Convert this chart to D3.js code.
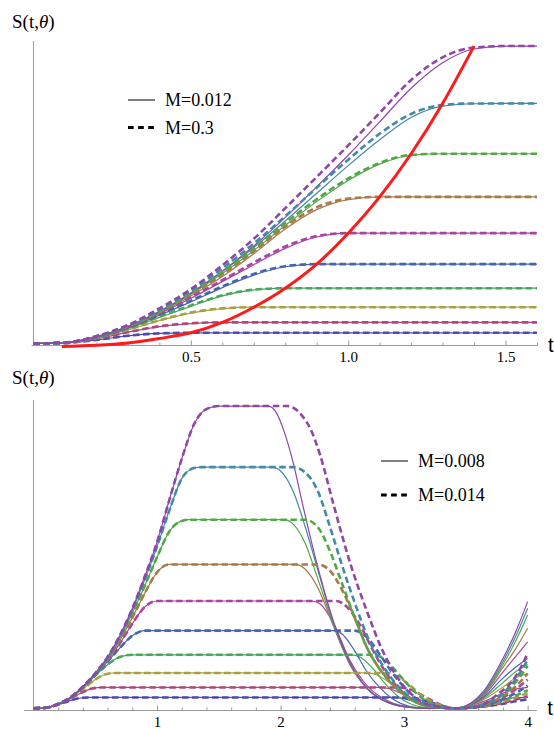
<!DOCTYPE html>
<html>
<head>
<meta charset="utf-8">
<script src="https://cdn.jsdelivr.net/npm/d3@7"></script>
<style>
  html, body { margin: 0; padding: 0; background: #fff; }
  svg { display: block; }
  .serif { font-family: "Liberation Serif", "Times New Roman", serif; }
  .sans { font-family: "Liberation Sans", Arial, sans-serif; }
</style>
</head>
<body>
<svg id="chart" width="554" height="729"></svg>
<script>
// Colours of the ten levels, lowest plateau first
const levelColors = ["#4b4bb0", "#b0457f", "#a8a040", "#45a85a", "#4565b0",
                     "#a845a3", "#a8794a", "#52a845", "#4389a8", "#9045a8"];

// ---------- upper panel: S(t,θ) for M=0.012 (solid) and M=0.3 (dashed) ----------
const topTimes = [0, 0.1, 0.2, 0.3, 0.4, 0.5, 0.6, 0.7, 0.8, 0.9, 1.0, 1.1, 1.2, 1.3, 1.4, 1.5, 1.6];
const topSolid = [
  [0, 0.002, 0.012, 0.026, 0.034, 0.036, 0.036, 0.036, 0.036, 0.036, 0.036, 0.036, 0.036, 0.036, 0.036, 0.036, 0.036],
  [0, 0.002, 0.016, 0.038, 0.057, 0.067, 0.071, 0.071, 0.071, 0.071, 0.071, 0.071, 0.071, 0.071, 0.071, 0.071, 0.071],
  [0, 0.002, 0.019, 0.046, 0.077, 0.102, 0.117, 0.122, 0.122, 0.122, 0.122, 0.122, 0.122, 0.122, 0.122, 0.122, 0.122],
  [0, 0.003, 0.020, 0.050, 0.088, 0.125, 0.160, 0.180, 0.186, 0.186, 0.186, 0.186, 0.186, 0.186, 0.186, 0.186, 0.186],
  [0, 0.003, 0.021, 0.052, 0.095, 0.140, 0.188, 0.230, 0.258, 0.267, 0.267, 0.267, 0.267, 0.267, 0.267, 0.267, 0.267],
  [0, 0.003, 0.022, 0.054, 0.100, 0.152, 0.208, 0.265, 0.320, 0.358, 0.371, 0.371, 0.371, 0.371, 0.371, 0.371, 0.371],
  [0, 0.003, 0.022, 0.055, 0.102, 0.160, 0.225, 0.302, 0.385, 0.450, 0.484, 0.493, 0.493, 0.493, 0.493, 0.493, 0.493],
  [0, 0.003, 0.023, 0.057, 0.106, 0.166, 0.235, 0.313, 0.397, 0.477, 0.548, 0.603, 0.633, 0.638, 0.638, 0.638, 0.638],
  [0, 0.003, 0.023, 0.058, 0.108, 0.170, 0.242, 0.323, 0.412, 0.505, 0.598, 0.685, 0.760, 0.798, 0.806, 0.807, 0.807],
  [0, 0.002, 0.022, 0.056, 0.107, 0.168, 0.243, 0.328, 0.424, 0.527, 0.633, 0.745, 0.858, 0.944, 0.990, 1.000, 1.000]
];
const topDashed = [
  [0, 0.002, 0.012, 0.026, 0.034, 0.036, 0.036, 0.036, 0.036, 0.036, 0.036, 0.036, 0.036, 0.036, 0.036, 0.036, 0.036],
  [0, 0.002, 0.016, 0.038, 0.058, 0.068, 0.071, 0.071, 0.071, 0.071, 0.071, 0.071, 0.071, 0.071, 0.071, 0.071, 0.071],
  [0, 0.002, 0.019, 0.047, 0.078, 0.104, 0.118, 0.122, 0.122, 0.122, 0.122, 0.122, 0.122, 0.122, 0.122, 0.122, 0.122],
  [0, 0.003, 0.020, 0.051, 0.090, 0.128, 0.162, 0.181, 0.186, 0.186, 0.186, 0.186, 0.186, 0.186, 0.186, 0.186, 0.186],
  [0, 0.003, 0.021, 0.053, 0.097, 0.144, 0.192, 0.234, 0.260, 0.267, 0.267, 0.267, 0.267, 0.267, 0.267, 0.267, 0.267],
  [0, 0.003, 0.022, 0.055, 0.102, 0.156, 0.213, 0.272, 0.326, 0.361, 0.371, 0.371, 0.371, 0.371, 0.371, 0.371, 0.371],
  [0, 0.003, 0.023, 0.057, 0.105, 0.165, 0.232, 0.310, 0.393, 0.458, 0.487, 0.493, 0.493, 0.493, 0.493, 0.493, 0.493],
  [0, 0.003, 0.023, 0.058, 0.108, 0.170, 0.240, 0.320, 0.405, 0.485, 0.555, 0.607, 0.634, 0.638, 0.638, 0.638, 0.638],
  [0, 0.003, 0.024, 0.060, 0.112, 0.177, 0.252, 0.336, 0.428, 0.524, 0.618, 0.705, 0.772, 0.802, 0.807, 0.807, 0.807],
  [0, 0.003, 0.025, 0.062, 0.118, 0.183, 0.263, 0.352, 0.455, 0.560, 0.666, 0.775, 0.886, 0.962, 0.995, 1.000, 1.000]
];
// red curve through the saturation points of the levels
const peakTimes  = [0.09, 0.2, 0.3, 0.4, 0.5, 0.6, 0.7, 0.8, 0.9, 1.0, 1.1, 1.2, 1.3, 1.4];
const peakValues = [-0.010, -0.006, 0.002, 0.017, 0.036, 0.071, 0.122, 0.186, 0.267, 0.371, 0.493, 0.638, 0.807, 1.000];
const topMajorTicks = [0.5, 1.0, 1.5];
const topMinorTicks = [0.1, 0.2, 0.3, 0.4, 0.6, 0.7, 0.8, 0.9, 1.1, 1.2, 1.3, 1.4, 1.6];
const topLegend = ["M=0.012", "M=0.3"];

// ---------- lower panel: M=0.008 (solid) and M=0.014 (dashed) ----------
// common rise of each level, [t, S]
const bottomRise = [
  [[0,0],[0.08,0.001],[0.2,0.012],[0.3,0.026],[0.38,0.034],[0.45,0.036]],
  [[0,0],[0.08,0.001],[0.2,0.013],[0.3,0.032],[0.4,0.054],[0.48,0.066],[0.56,0.069]],
  [[0,0],[0.08,0.001],[0.2,0.014],[0.3,0.035],[0.4,0.064],[0.5,0.095],[0.58,0.112],[0.66,0.117]],
  [[0,0],[0.08,0.001],[0.2,0.014],[0.3,0.036],[0.4,0.068],[0.5,0.108],[0.6,0.145],[0.7,0.170],[0.8,0.177]],
  [[0,0],[0.08,0.001],[0.2,0.014],[0.3,0.036],[0.4,0.069],[0.5,0.110],[0.6,0.155],[0.7,0.200],[0.8,0.240],[0.9,0.257]],
  [[0,0],[0.08,0.001],[0.2,0.014],[0.3,0.036],[0.4,0.070],[0.5,0.112],[0.6,0.160],[0.7,0.215],[0.8,0.280],[0.9,0.335],[1.0,0.355]],
  [[0,0],[0.08,0.001],[0.2,0.014],[0.3,0.036],[0.4,0.070],[0.5,0.113],[0.6,0.162],[0.7,0.225],[0.8,0.300],[0.9,0.380],[1.0,0.450],[1.1,0.476]],
  [[0,0],[0.08,0.001],[0.2,0.014],[0.3,0.036],[0.4,0.071],[0.5,0.114],[0.6,0.165],[0.7,0.232],[0.8,0.315],[0.9,0.405],[1.0,0.500],[1.1,0.585],[1.2,0.620],[1.26,0.624]],
  [[0,0],[0.08,0.001],[0.2,0.014],[0.3,0.036],[0.4,0.071],[0.5,0.115],[0.6,0.168],[0.7,0.238],[0.8,0.325],[0.9,0.425],[1.0,0.535],[1.1,0.655],[1.2,0.760],[1.3,0.795],[1.36,0.798]],
  [[0,0],[0.08,0.001],[0.2,0.014],[0.3,0.036],[0.4,0.072],[0.5,0.116],[0.6,0.170],[0.7,0.242],[0.8,0.330],[0.9,0.435],[1.0,0.550],[1.1,0.690],[1.2,0.825],[1.3,0.940],[1.4,0.990],[1.5,1.000]]
];
// fall and second rise, M=0.008
const bottomFallSolid = [
  [[2.90,0.036],[2.98,0.034],[3.08,0.022],[3.2,0.008],[3.41,0],[3.55,0.007],[3.64,0.015],[3.8,0.030],[3.9,0.035],[4.0,0.036]],
  [[2.80,0.069],[2.88,0.065],[2.98,0.048],[3.08,0.025],[3.2,0.007],[3.41,0],[3.55,0.010],[3.64,0.022],[3.8,0.050],[3.9,0.063],[4.0,0.069]],
  [[2.70,0.117],[2.78,0.110],[2.88,0.085],[2.98,0.050],[3.08,0.020],[3.2,0.004],[3.41,0],[3.55,0.012],[3.64,0.028],[3.8,0.070],[3.9,0.100],[4.0,0.115]],
  [[2.58,0.177],[2.65,0.168],[2.75,0.130],[2.85,0.080],[2.95,0.040],[3.05,0.015],[3.2,0.002],[3.41,0],[3.55,0.013],[3.64,0.032],[3.8,0.085],[3.9,0.120],[4.0,0.145]],
  [[2.43,0.257],[2.5,0.245],[2.6,0.190],[2.7,0.120],[2.8,0.070],[2.9,0.033],[3.05,0.006],[3.2,0],[3.41,0],[3.55,0.014],[3.64,0.036],[3.8,0.100],[3.9,0.135],[4.0,0.165]],
  [[2.25,0.355],[2.32,0.345],[2.43,0.280],[2.56,0.160],[2.7,0.075],[2.88,0.022],[3.05,0.004],[3.2,0],[3.41,0],[3.55,0.015],[3.64,0.040],[3.8,0.120],[3.9,0.170],[4.0,0.220]],
  [[2.12,0.476],[2.2,0.460],[2.3,0.400],[2.43,0.270],[2.56,0.145],[2.7,0.066],[2.88,0.019],[3.05,0.003],[3.2,0],[3.41,0],[3.55,0.016],[3.64,0.044],[3.8,0.135],[3.9,0.195],[4.0,0.265]],
  [[2.03,0.624],[2.1,0.610],[2.2,0.545],[2.3,0.430],[2.43,0.275],[2.56,0.148],[2.7,0.066],[2.88,0.018],[3.05,0.003],[3.2,0],[3.41,0],[3.55,0.017],[3.64,0.047],[3.8,0.145],[3.9,0.220],[4.0,0.309]],
  [[1.93,0.798],[2.0,0.785],[2.1,0.720],[2.2,0.600],[2.3,0.460],[2.43,0.280],[2.56,0.150],[2.7,0.066],[2.88,0.018],[3.05,0.003],[3.2,0],[3.41,0],[3.55,0.018],[3.64,0.050],[3.8,0.155],[3.9,0.235],[4.0,0.331]],
  [[1.90,1.000],[1.97,0.975],[2.02,0.926],[2.1,0.816],[2.18,0.672],[2.29,0.485],[2.43,0.286],[2.56,0.154],[2.7,0.066],[2.88,0.017],[3.05,0.003],[3.2,0],[3.41,0],[3.55,0.020],[3.64,0.055],[3.8,0.165],[3.9,0.250],[4.0,0.353]]
];
// fall and second rise, M=0.014
const bottomFallDashed = [
  [[3.00,0.036],[3.1,0.033],[3.2,0.022],[3.3,0.009],[3.41,0],[3.55,0.002],[3.65,0.006],[3.8,0.015],[3.91,0.024],[4.0,0.030]],
  [[2.95,0.069],[3.05,0.062],[3.15,0.042],[3.25,0.020],[3.34,0.005],[3.41,0],[3.55,0.003],[3.65,0.007],[3.8,0.018],[3.91,0.030],[4.0,0.040]],
  [[2.85,0.117],[2.95,0.105],[3.05,0.075],[3.15,0.040],[3.28,0.012],[3.41,0],[3.55,0.003],[3.65,0.008],[3.8,0.022],[3.91,0.037],[4.0,0.050]],
  [[2.75,0.177],[2.85,0.160],[2.95,0.115],[3.05,0.070],[3.15,0.032],[3.28,0.008],[3.41,0],[3.55,0.003],[3.65,0.009],[3.8,0.026],[3.91,0.043],[4.0,0.060]],
  [[2.60,0.257],[2.7,0.235],[2.8,0.180],[2.9,0.120],[3.0,0.070],[3.1,0.032],[3.26,0.007],[3.41,0],[3.55,0.003],[3.65,0.010],[3.8,0.030],[3.91,0.052],[4.0,0.075]],
  [[2.45,0.355],[2.55,0.330],[2.65,0.270],[2.75,0.190],[2.85,0.120],[2.97,0.060],[3.1,0.022],[3.26,0.005],[3.41,0],[3.55,0.003],[3.65,0.012],[3.8,0.035],[3.91,0.065],[4.0,0.095]],
  [[2.30,0.476],[2.4,0.455],[2.5,0.390],[2.6,0.300],[2.7,0.200],[2.83,0.115],[2.97,0.055],[3.1,0.020],[3.26,0.004],[3.41,0],[3.55,0.004],[3.65,0.013],[3.8,0.040],[3.91,0.075],[4.0,0.115]],
  [[2.20,0.624],[2.3,0.600],[2.4,0.520],[2.5,0.410],[2.6,0.300],[2.7,0.200],[2.83,0.115],[2.97,0.055],[3.1,0.020],[3.26,0.004],[3.41,0],[3.55,0.004],[3.65,0.014],[3.8,0.045],[3.91,0.090],[4.0,0.140]],
  [[2.10,0.798],[2.2,0.780],[2.3,0.720],[2.4,0.600],[2.5,0.470],[2.6,0.350],[2.7,0.240],[2.83,0.140],[2.97,0.065],[3.1,0.025],[3.26,0.005],[3.41,0],[3.55,0.004],[3.65,0.015],[3.8,0.050],[3.91,0.100],[4.0,0.160]],
  [[2.05,1.000],[2.12,0.990],[2.18,0.965],[2.24,0.926],[2.32,0.838],[2.43,0.672],[2.56,0.485],[2.70,0.320],[2.83,0.187],[2.97,0.088],[3.10,0.033],[3.26,0.006],[3.41,0],[3.52,0.002],[3.59,0.005],[3.75,0.044],[3.91,0.110],[4.0,0.182]]
];
const bottomMajorTicks = [1, 2, 3, 4];
const bottomMinorTicks = [0.2, 0.4, 0.6, 0.8, 1.2, 1.4, 1.6, 1.8, 2.2, 2.4, 2.6, 2.8, 3.2, 3.4, 3.6, 3.8];
const bottomLegend = ["M=0.008", "M=0.014"];

// ---------- drawing ----------
const svg = d3.select("#chart");
const axisColor = "#9a9a9a";
const dashPattern = "6.5,3.5";

function drawAxes(x, y, major, minor, fmt) {
  const y0 = y(y.domain()[0]);
  // vertical axis: plain line
  svg.append("line")
    .attr("x1", x(0)).attr("x2", x(0))
    .attr("y1", y(y.domain()[1])).attr("y2", y0)
    .attr("stroke", axisColor).attr("stroke-width", 1);
  // horizontal axis with inward ticks
  const gMinor = svg.append("g").attr("transform", `translate(0,${y0})`)
    .call(d3.axisBottom(x).tickValues(minor).tickSize(-2.5).tickSizeOuter(0).tickFormat(""));
  gMinor.select(".domain").remove();
  const gMajor = svg.append("g").attr("transform", `translate(0,${y0})`)
    .call(d3.axisBottom(x).tickValues(major).tickSize(-4.5).tickSizeOuter(0).tickPadding(6).tickFormat(fmt));
  [gMinor, gMajor].forEach(g => g.selectAll("line").attr("stroke", axisColor));
  gMajor.select(".domain").attr("stroke", axisColor);
  gMajor.attr("font-family", null).attr("font-size", null);
  gMajor.selectAll("text").attr("class", "serif").style("font-size", "15px").attr("fill", "#000");
}

function axisTitles(x, titleBaseline, tBaseline) {
  const s = svg.append("text").attr("class", "serif").attr("x", 12).attr("y", titleBaseline)
    .style("font-size", "19px").attr("fill", "#000");
  s.append("tspan").text("S(t,");
  s.append("tspan").style("font-style", "italic").text("θ");
  s.append("tspan").text(")");
  svg.append("text").attr("class", "sans").attr("x", x.range()[1] + 11).attr("y", tBaseline)
    .style("font-size", "20px").attr("fill", "#000").text("t");
}

function legend(xLine, yFirst, gap, labels) {
  const g = svg.append("g");
  labels.forEach((lab, i) => {
    const yy = yFirst + i * gap;
    g.append("line").attr("x1", xLine).attr("x2", xLine + 27).attr("y1", yy).attr("y2", yy)
      .attr("stroke", "#000")
      .attr("stroke-width", i === 0 ? 1 : 3)
      .attr("stroke-dasharray", i === 0 ? null : "5.7,4.4");
    g.append("text").attr("class", "serif").attr("x", xLine + 37).attr("y", yy + 6)
      .style("font-size", "18px").attr("fill", "#000").text(lab);
  });
}

function drawCurves(points, x, y, dashed) {
  const line = d3.line().x(d => x(d[0])).y(d => y(d[1])).curve(d3.curveMonotoneX);
  const g = svg.append("g").attr("fill", "none").attr("stroke-linecap", "butt");
  points.forEach((pts, i) => {
    g.append("path").attr("d", line(pts))
      .attr("stroke", levelColors[i])
      .attr("stroke-width", dashed ? 2.6 : 1.2)
      .attr("stroke-dasharray", dashed ? dashPattern : null);
  });
}

// upper panel
const xTop = d3.scaleLinear().domain([-0.008, 1.6]).range([31, 537]);
const yTop = d3.scaleLinear().domain([-0.005, 1.017]).range([345, 41]);
drawAxes(xTop, yTop, topMajorTicks, topMinorTicks, d3.format(".1f"));
drawCurves(topSolid.map(v => v.map((s, j) => [topTimes[j], s])), xTop, yTop, false);
drawCurves(topDashed.map(v => v.map((s, j) => [topTimes[j], s])), xTop, yTop, true);
svg.append("path")
  .attr("d", d3.line().x(d => xTop(d[0])).y(d => yTop(d[1])).curve(d3.curveMonotoneX)(peakTimes.map((t, j) => [t, peakValues[j]])))
  .attr("fill", "none").attr("stroke", "#ff1a1a").attr("stroke-width", 3);
axisTitles(xTop, 28, 352);
legend(128, 100, 27.5, topLegend);

// lower panel
const xBot = d3.scaleLinear().domain([-0.08, 4.07]).range([23.6, 536.3]);
const yBot = d3.scaleLinear().domain([-0.0056, 1.02]).range([710, 400]);
drawAxes(xBot, yBot, bottomMajorTicks, bottomMinorTicks, d3.format("d"));
drawCurves(bottomRise.map((r, i) => r.concat(bottomFallSolid[i])), xBot, yBot, false);
drawCurves(bottomRise.map((r, i) => r.concat(bottomFallDashed[i])), xBot, yBot, true);
axisTitles(xBot, 384, 715);
legend(381, 461, 34, bottomLegend);
</script>
</body>
</html>
